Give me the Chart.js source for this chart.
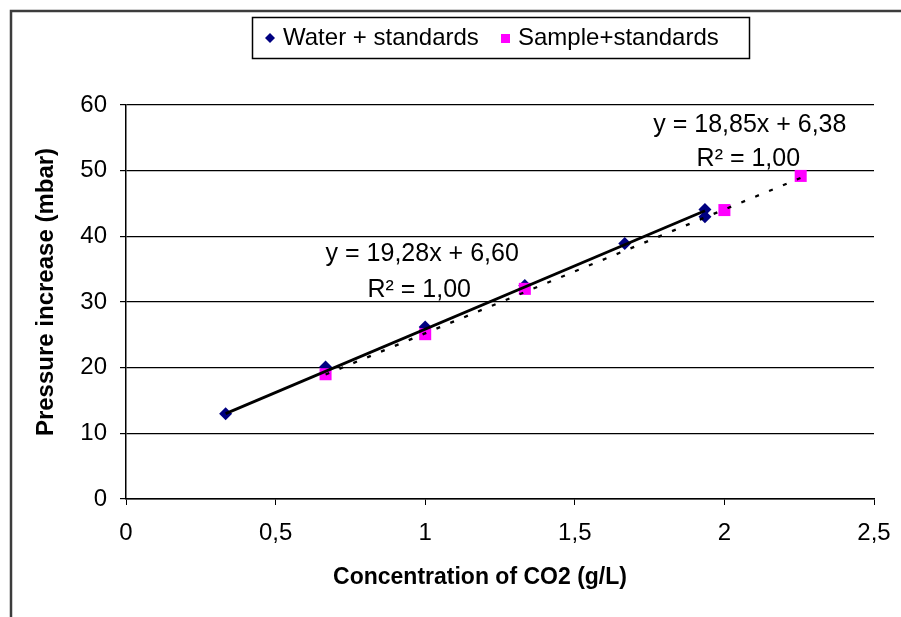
<!DOCTYPE html>
<html><head><meta charset="utf-8">
<script src="https://cdn.jsdelivr.net/npm/chart.js@4/dist/chart.umd.min.js"></script>
<style>html,body{margin:0;padding:0;background:#fff;} #wrap{width:901px;height:617px;position:relative;}</style>
</head><body><div id="wrap"><canvas id="c"></canvas></div>
<script>
const seriesNames = ['Water + standards', 'Sample+standards'];
const waterX = [0.333, 0.667, 1.0, 1.333, 1.667, 1.935, 1.935];
const waterY = [13.0, 20.1, 26.2, 32.5, 38.9, 44.1, 43.0];
const sampleX = [0.667, 1.0, 1.333, 2.0, 2.255];
const sampleY = [19.0, 25.1, 32.0, 44.0, 49.2];
const waterTrendX = [0.333, 1.935];
const waterTrendY = [13.0, 43.9];
const sampleTrendX = [0.667, 2.255];
const sampleTrendY = [18.95, 48.9];
const xTicks = [0, 0.5, 1, 1.5, 2, 2.5];
const yTicks = [0, 10, 20, 30, 40, 50, 60];
const eqTexts = ['y = 19,28x + 6,60', 'R² = 1,00', 'y = 18,85x + 6,38', 'R² = 1,00'];
const eqX = [0.99, 0.98, 2.085, 2.08];
const eqY = [37.3, 31.8, 56.95, 51.7];
const xTitle = 'Concentration of CO2 (g/L)';
const yTitle = 'Pressure increase (mbar)';

const FONT = '"Liberation Sans", Arial, sans-serif';
const pts = (xs, ys) => xs.map((x, i) => ({x, y: ys[i]}));
const fmt = v => String(v).replace('.', ',');

const decor = {
  id: 'decor',
  beforeDraw(chart) {
    const ctx = chart.ctx;
    ctx.save();
    ctx.strokeStyle = '#3c3c3c';
    ctx.lineWidth = 2.5;
    ctx.beginPath();
    ctx.moveTo(11, 640); ctx.lineTo(11, 11); ctx.lineTo(920, 11);
    ctx.stroke();
    ctx.restore();
  },
  afterDraw(chart) {
    const ctx = chart.ctx;
    const xs = chart.scales.x, ys = chart.scales.y;
    ctx.save();
    ctx.fillStyle = '#000';
    ctx.font = '25px ' + FONT;
    ctx.textAlign = 'center';
    ctx.textBaseline = 'middle';
    eqTexts.forEach((t, i) => {
      ctx.fillText(t, xs.getPixelForValue(eqX[i]), ys.getPixelForValue(eqY[i]));
    });
    ctx.font = 'bold 23px ' + FONT;
    ctx.fillText(xTitle, 480, 578);
    ctx.save();
    ctx.translate(46, 292);
    ctx.rotate(-Math.PI / 2);
    ctx.font = 'bold 24px ' + FONT;
    ctx.fillText(yTitle, 0, 0);
    ctx.restore();
    ctx.strokeStyle = '#000';
    ctx.lineWidth = 1.5;
    ctx.strokeRect(252.5, 17.5, 497, 41);
    ctx.font = '24px ' + FONT;
    ctx.textAlign = 'left';
    const ly = 38;
    const ds = chart.data.datasets;
    ctx.fillStyle = ds[0].backgroundColor;
    ctx.beginPath();
    ctx.moveTo(270, ly - 5); ctx.lineTo(275, ly); ctx.lineTo(270, ly + 5); ctx.lineTo(265, ly);
    ctx.closePath(); ctx.fill();
    ctx.fillStyle = '#000';
    ctx.fillText(ds[0].label, 283, ly);
    ctx.fillStyle = ds[1].backgroundColor;
    ctx.fillRect(501, ly - 4, 9, 9);
    ctx.fillStyle = '#000';
    ctx.fillText(ds[1].label, 518, ly);
    ctx.restore();
  }
};

new Chart(document.getElementById('c'), {
  type: 'scatter',
  data: {
    datasets: [
      {label: seriesNames[0], data: pts(waterX, waterY), backgroundColor: '#000080', borderColor: '#000080',
       pointStyle: 'rectRot', pointRadius: 6.5, pointBorderWidth: 0, order: 3},
      {label: seriesNames[1], data: pts(sampleX, sampleY), backgroundColor: '#ff00ff', borderColor: '#ff00ff',
       pointStyle: 'rect', pointRadius: 8.5, pointBorderWidth: 0, order: 2},
      {label: 'trend1', data: pts(waterTrendX, waterTrendY), showLine: true, borderColor: '#000', borderWidth: 2.8,
       pointRadius: 0, fill: false, order: 1},
      {label: 'trend2', data: pts(sampleTrendX, sampleTrendY), showLine: true, borderColor: '#000', borderWidth: 2.3,
       borderDash: [4, 11], pointRadius: 0, fill: false, order: 0}
    ]
  },
  options: {
    responsive: true,
    maintainAspectRatio: false,
    animation: false,
    layout: {padding: {top: 105, left: 0, right: 27, bottom: 0}},
    plugins: {legend: {display: false}, tooltip: {enabled: false}},
    scales: {
      x: {
        type: 'linear', min: 0, max: 2.5,
        afterBuildTicks: s => { s.ticks = xTicks.map(v => ({value: v})); },
        afterFit: s => { s.height = 118; s.paddingRight = 0; s.paddingLeft = 0; },
        ticks: {callback: fmt, color: '#000', font: {size: 24, family: FONT}, padding: 14, maxRotation: 0},
        grid: {drawOnChartArea: false, drawTicks: true, tickLength: 6, color: '#000', lineWidth: 1},
        border: {color: '#000', width: 1.5}
      },
      y: {
        min: 0, max: 60,
        afterBuildTicks: s => { s.ticks = yTicks.map(v => ({value: v})); },
        afterFit: s => { s.width = 126; s.paddingTop = 0; s.paddingBottom = 0; },
        ticks: {callback: fmt, color: '#000', font: {size: 24, family: FONT}, padding: 13},
        grid: {color: '#000', lineWidth: 1.2, tickLength: 6},
        border: {color: '#000', width: 1.5}
      }
    }
  },
  plugins: [decor]
});
</script></body></html>
